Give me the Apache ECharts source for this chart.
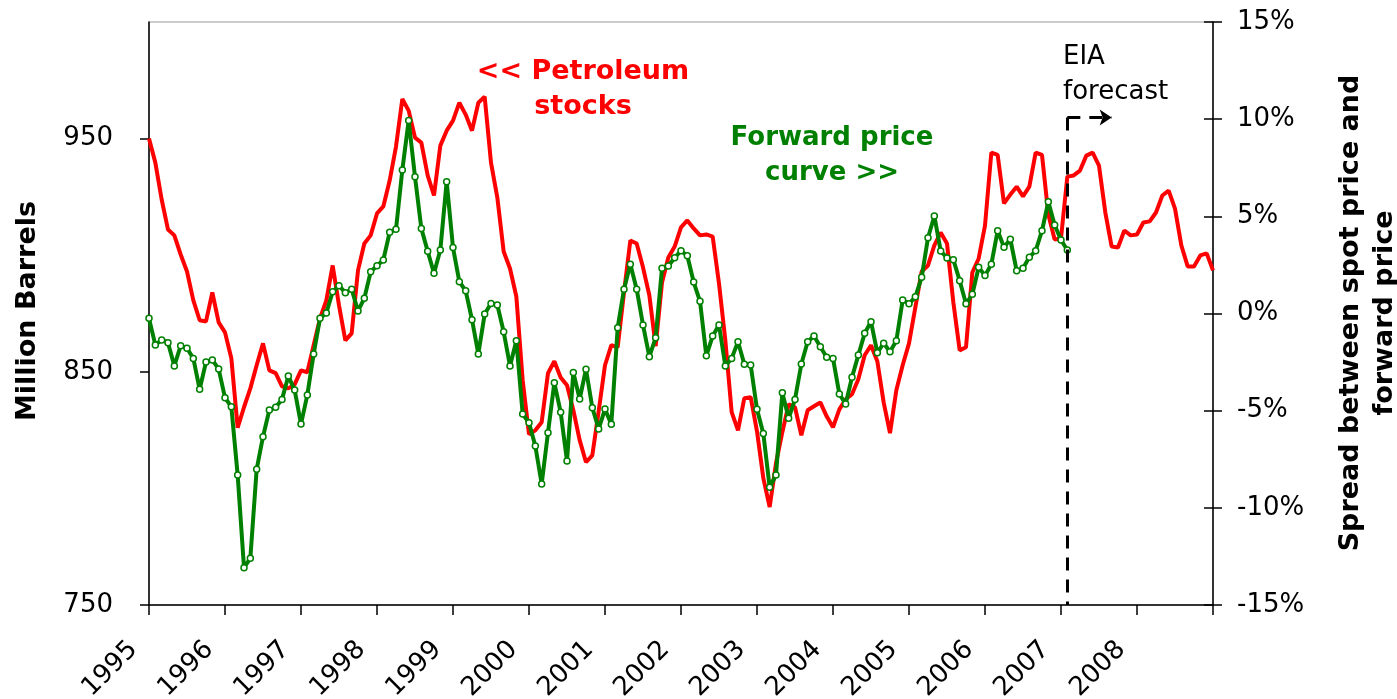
<!DOCTYPE html>
<html>
<head>
<meta charset="utf-8">
<script src="https://cdn.jsdelivr.net/npm/echarts@6/dist/echarts.min.js"></script>
<style>
html,body{margin:0;padding:0;background:#fff;}
#chart{width:1397px;height:699px;}
</style>
</head>
<body>
<div id="chart"></div>
<script>
// ---- data ----
const years = [1995,1996,1997,1998,1999,2000,2001,2002,2003,2004,2005,2006,2007,2008,2009];
const months = ['01','02','03','04','05','06','07','08','09','10','11','12'];
const categories = [];
years.forEach(y => months.forEach(m => { if (y < 2009 || m === '01') categories.push(y + '-' + m); }));

// Petroleum stocks (million barrels), monthly Jan 1995 - Jan 2009
const petroleumStocks = [
 950.0,939.7,923.9,911.0,908.5,900.3,893.0,880.6,872.1,871.6,884.0,871.2,
 866.9,855.8,826.0,834.8,842.9,852.8,862.2,850.6,849.4,843.8,842.9,844.6,
 850.6,849.8,861.4,872.9,880.6,895.6,878.5,863.5,866.5,893.5,905.0,908.5,
 917.9,920.9,932.0,946.6,967.0,962.0,950.4,948.3,934.2,925.6,947.0,953.4,
 957.7,965.4,960.3,953.4,965.4,968.0,939.7,924.7,901.6,894.3,882.3,846.4,
 823.2,824.9,828.4,849.4,854.5,847.6,844.2,833.5,820.7,811.2,814.2,833.1,
 852.8,861.4,860.5,884.0,906.3,905.0,894.8,882.8,861.0,888.3,899.0,903.7,
 911.9,914.9,911.5,908.5,908.9,908.0,887.9,863.5,832.7,824.9,838.7,839.1,
 824.5,804.4,792.0,810.8,824.1,836.1,834.8,822.8,833.5,835.2,836.9,830.9,
 826.2,833.9,838.2,840.4,846.8,857.1,861.4,854.5,836.9,823.7,842.1,852.8,
 862.2,877.6,893.0,895.6,904.2,909.7,905.0,879.8,859.2,860.5,892.6,898.6,
 912.7,944.0,943.0,922.2,926.0,929.4,925.2,929.4,944.0,943.0,917.5,906.7,
 907.2,933.7,934.2,936.3,942.7,944.0,938.4,918.3,903.7,903.3,910.6,908.5,
 908.9,914.0,914.5,918.3,925.6,927.7,920.0,904.2,895.2,895.2,899.9,900.8,
 893.5
];

// Spread between spot price and forward price (%), monthly Jan 1995 - Feb 2007
const spread = [
 -0.25,-1.62,-1.36,-1.50,-2.70,-1.66,-1.79,-2.31,-3.90,-2.50,-2.39,-2.86,
 -4.33,-4.80,-8.31,-13.08,-12.60,-8.02,-6.34,-4.97,-4.83,-4.42,-3.22,-3.94,
 -5.69,-4.19,-2.08,-0.25,0.03,1.12,1.43,1.07,1.25,0.13,0.78,2.15,
 2.46,2.75,4.18,4.33,7.39,9.93,7.04,4.38,3.20,2.07,3.27,6.78,
 3.39,1.64,1.17,-0.32,-2.08,-0.03,0.52,0.44,-0.94,-2.70,-1.40,-5.17,
 -5.62,-6.82,-8.77,-6.13,-3.56,-5.08,-7.59,-3.03,-4.40,-2.87,-4.85,-5.94,
 -4.92,-5.70,-0.73,1.25,2.53,1.25,-0.59,-2.22,-1.25,2.33,2.44,2.87,
 3.23,2.97,1.62,0.63,-2.17,-1.16,-0.59,-2.70,-2.31,-1.45,-2.61,-2.65,
 -4.93,-6.17,-8.94,-8.31,-4.08,-5.39,-4.42,-2.60,-1.45,-1.16,-1.71,-2.25,
 -2.31,-4.14,-4.66,-3.28,-2.14,-1.02,-0.42,-2.02,-1.53,-1.97,-1.40,0.69,
 0.50,0.86,1.86,3.90,5.02,3.22,2.86,2.77,1.69,0.50,0.99,2.38,
 1.95,2.53,4.26,3.41,3.82,2.20,2.33,2.89,3.23,4.26,5.75,4.55,
 3.78,3.27
];

const leftTicks = [750, 850, 950];
const forecastStart = '2007-02';
const forecastArrowEnd = '2007-09';
const forecastLineTop = 959;

// ---- chart ----
const FONT = '"DejaVu Sans", Verdana, sans-serif';
const chart = echarts.init(document.getElementById('chart'), null, {renderer: 'canvas'});

const axisLine = {show: true, onZero: false, lineStyle: {color: '#000', width: 1.5}};

const option = {
  backgroundColor: '#fff',
  animation: false,
  textStyle: {fontFamily: FONT},
  grid: {left: 149, right: 184, top: 22, bottom: 94, containLabel: false, outerBoundsMode: 'none',
    show: true, borderColor: '#999', borderWidth: 1, backgroundColor: '#fff'},
  xAxis: {
    type: 'category',
    data: categories,
    boundaryGap: false,
    axisLine: axisLine,
    axisTick: {show: true, interval: 11, length: 10, lineStyle: {color: '#000', width: 1.5}},
    axisLabel: {
      interval: 11, rotate: 45, margin: 25, padding: [0, 22, 0, 0],
      color: '#000', fontSize: 26, fontFamily: FONT,
      formatter: v => { const y = v.slice(0, 4); return y === '2009' ? '' : y; }
    },
    splitLine: {show: false}
  },
  yAxis: [
    {
      type: 'value', position: 'left', min: 750, max: 1000, interval: 100,
      axisLine: axisLine,
      axisTick: {show: true, length: 9, customValues: leftTicks, lineStyle: {color: '#000', width: 1.5}},
      axisLabel: {color: '#000', fontSize: 26, margin: 36, fontFamily: FONT, customValues: leftTicks,
        formatter: v => (leftTicks.indexOf(v) >= 0 ? String(v) : '')},
      splitLine: {show: false}
    },
    {
      type: 'value', position: 'right', min: -15, max: 15, interval: 5,
      axisLine: axisLine,
      axisTick: {show: true, length: 9, lineStyle: {color: '#000', width: 1.5}},
      axisLabel: {color: '#000', fontSize: 26, margin: 24, fontFamily: FONT, formatter: v => v + '%'},
      splitLine: {show: false}
    },
    {
      type: 'value', position: 'right', min: -15, max: 15, interval: 5,
      axisLine: {show: false, onZero: false},
      axisTick: {show: true, inside: true, length: 9, lineStyle: {color: '#000', width: 1.5}},
      axisLabel: {show: false},
      splitLine: {show: false}
    }
  ],
  series: [
    {
      name: 'Petroleum stocks',
      type: 'line',
      yAxisIndex: 0,
      data: petroleumStocks,
      showSymbol: false,
      symbol: 'none',
      lineStyle: {color: '#ff0000', width: 4},
      itemStyle: {color: '#ff0000'},
      z: 2,
      markLine: {
        silent: true,
        symbol: ['none', 'none'],
        label: {show: false},
        lineStyle: {color: '#000', width: 3, type: [13, 9]},
        data: [
          [{coord: [forecastStart, forecastLineTop]}, {coord: [forecastStart, 750]}],
          [{coord: [forecastStart, forecastLineTop]}, {coord: [forecastArrowEnd, forecastLineTop], symbol: 'arrow', symbolSize: [12, 12]}]
        ]
      }
    },
    {
      name: 'Forward price curve',
      type: 'line',
      yAxisIndex: 1,
      data: spread,
      symbol: 'circle',
      symbolSize: 6,
      showAllSymbol: true,
      lineStyle: {color: '#008000', width: 4},
      itemStyle: {color: '#fff', borderColor: '#008000', borderWidth: 1.5},
      z: 3
    }
  ],
  graphic: [
    {type: 'text', x: 583, y: 72, z: 10, style: {text: '<< Petroleum', fill: '#ff0000', font: 'bold 27px ' + FONT, align: 'center', verticalAlign: 'middle', textAlign: 'center', textVerticalAlign: 'middle'}},
    {type: 'text', x: 583, y: 107, z: 10, style: {text: 'stocks', fill: '#ff0000', font: 'bold 27px ' + FONT, align: 'center', verticalAlign: 'middle', textAlign: 'center', textVerticalAlign: 'middle'}},
    {type: 'text', x: 832, y: 138, z: 10, style: {text: 'Forward price', fill: '#008000', font: 'bold 26px ' + FONT, align: 'center', verticalAlign: 'middle', textAlign: 'center', textVerticalAlign: 'middle'}},
    {type: 'text', x: 832, y: 173, z: 10, style: {text: 'curve >>', fill: '#008000', font: 'bold 26px ' + FONT, align: 'center', verticalAlign: 'middle', textAlign: 'center', textVerticalAlign: 'middle'}},
    {type: 'text', x: 1063, y: 57, z: 10, style: {text: 'EIA', fill: '#000', font: '26px ' + FONT, align: 'left', verticalAlign: 'middle', textAlign: 'left', textVerticalAlign: 'middle'}},
    {type: 'text', x: 1063, y: 92, z: 10, style: {text: 'forecast', fill: '#000', font: '26px ' + FONT, align: 'left', verticalAlign: 'middle', textAlign: 'left', textVerticalAlign: 'middle'}},
    {type: 'text', x: 28, y: 311, rotation: Math.PI / 2, z: 10, style: {text: 'Million Barrels', fill: '#000', font: 'bold 27px ' + FONT, align: 'center', verticalAlign: 'middle', textAlign: 'center', textVerticalAlign: 'middle'}},
    {type: 'text', x: 1351, y: 313, rotation: Math.PI / 2, z: 10, style: {text: 'Spread between spot price and', fill: '#000', font: 'bold 27px ' + FONT, align: 'center', verticalAlign: 'middle', textAlign: 'center', textVerticalAlign: 'middle'}},
    {type: 'text', x: 1385, y: 313, rotation: Math.PI / 2, z: 10, style: {text: 'forward price', fill: '#000', font: 'bold 27px ' + FONT, align: 'center', verticalAlign: 'middle', textAlign: 'center', textVerticalAlign: 'middle'}}
  ]
};
chart.setOption(option);
</script>
</body>
</html>
